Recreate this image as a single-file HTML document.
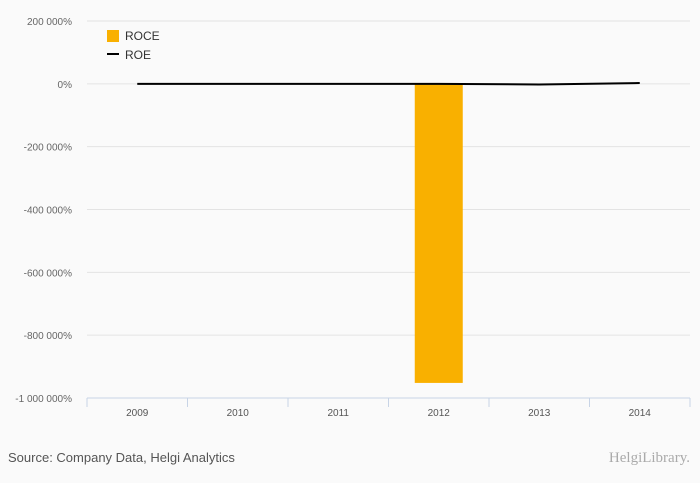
<!DOCTYPE html>
<html><head><meta charset="utf-8"><style>
body{margin:0;background:#fafafa;font-family:"Liberation Sans",sans-serif}
svg{display:block}
</style></head><body>
<svg id="c" width="700" height="483" xmlns="http://www.w3.org/2000/svg">
<rect width="700" height="483" fill="#fafafa"/>
<g id="grid"></g>
<g id="yt"></g>
<g id="xt"></g>
<g id="bars"></g>
<g id="line"></g>
<g>
<rect x="107" y="30" width="12" height="12" fill="#f9b000"/>
<text x="125" y="40" font-size="12" fill="#333">ROCE</text>
<rect x="107" y="53" width="12" height="2" fill="#000"/>
<text x="125" y="59" font-size="12" fill="#333">ROE</text>
</g>
<text x="8" y="462" font-size="13" fill="#555">Source: Company Data, Helgi Analytics</text>
<text x="690" y="462" font-size="15" fill="#aaa" text-anchor="end" font-family="Liberation Serif,serif">HelgiLibrary.</text>
</svg>
<script>
const categories=["2009","2010","2011","2012","2013","2014"];
const roce=[null,null,null,-952000,null,null];
const roe=[0,0,0,0,-2000,2500];
const yTicks=[200000,0,-200000,-400000,-600000,-800000,-1000000];
const NS="http://www.w3.org/2000/svg";
const x0=87,x1=690,yTop=21,yBot=398,vMax=200000,vMin=-1000000;
const bw=(x1-x0)/categories.length;
function y(v){return yTop+(vMax-v)/(vMax-vMin)*(yBot-yTop);}
function xc(i){return x0+bw*(i+0.5);}
function fmt(v){const s=Math.abs(v).toString().replace(/\B(?=(\d{3})+(?!\d))/g," ");return (v<0?"-":"")+s+"%";}
function mk(t,a,p){const e=document.createElementNS(NS,t);for(const k in a)e.setAttribute(k,a[k]);p.appendChild(e);return e;}
const grid=document.getElementById("grid"),yt=document.getElementById("yt"),xt=document.getElementById("xt");
yTicks.forEach(v=>{
 if(v!==vMin){const l=mk("line",{x1:x0,x2:x1,y1:y(v),y2:y(v),stroke:"#e3e3e3","stroke-width":1},grid);
 
 }
 const t=mk("text",{x:72,y:y(v)+4,"font-size":10,fill:"#666","text-anchor":"end"},yt);
 t.textContent=fmt(v);
 
 
});
const ax=mk("line",{x1:x0,x2:x1,y1:yBot,y2:yBot,stroke:"#c8d4e6"},xt);


for(let i=0;i<=categories.length;i++){
 const tk=mk("line",{x1:x0+bw*i,x2:x0+bw*i,y1:yBot,y2:yBot+9,stroke:"#c8d4e6"},xt);
 
 
}
categories.forEach((c,i)=>{
 const t=mk("text",{x:xc(i),y:yBot+18,"font-size":10,fill:"#555","text-anchor":"middle"},xt);
 t.textContent=c;
 
 
});
const bars=document.getElementById("bars");
roce.forEach((v,i)=>{
 if(v==null)return;
 const a=y(0),b=y(v);
 const r=mk("rect",{x:xc(i)-24,y:Math.min(a,b),width:48,height:Math.abs(b-a),fill:"#f9b000"},bars);
 
 
});
const pts=roe.map((v,i)=>xc(i)+","+y(v)).join(" ");
const pl=mk("polyline",{points:pts,fill:"none",stroke:"#000","stroke-width":2},document.getElementById("line"));


</script>
</body></html>
